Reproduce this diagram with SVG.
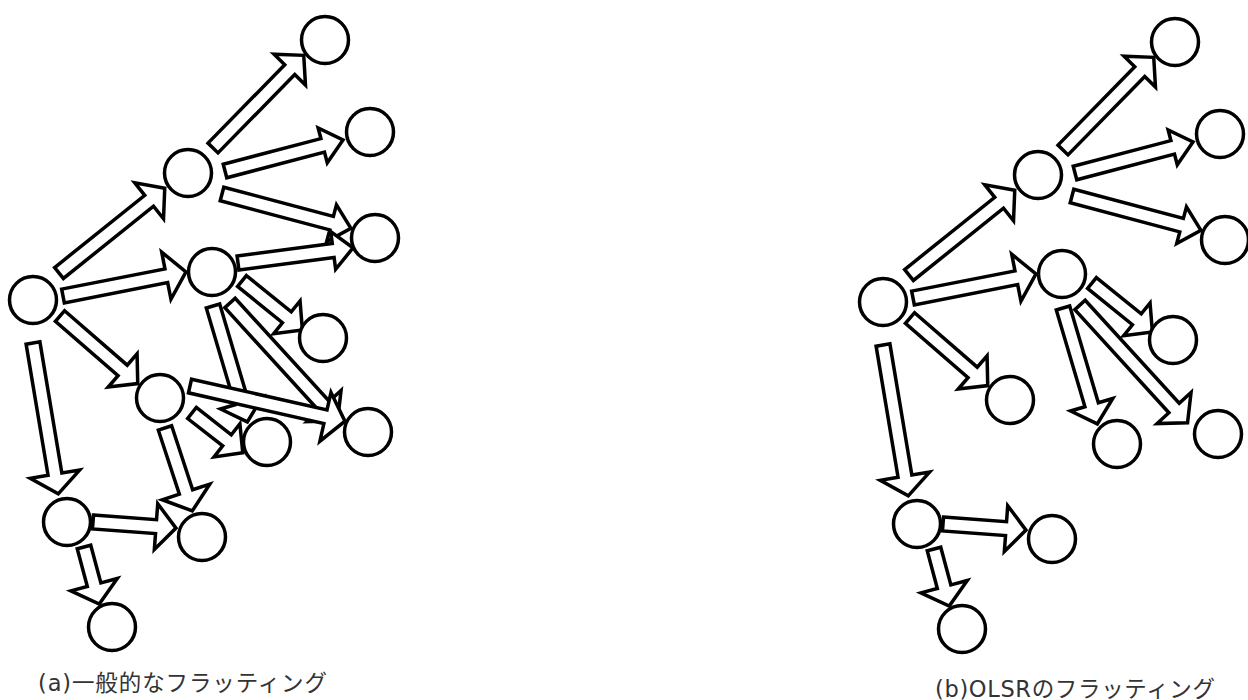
<svg xmlns="http://www.w3.org/2000/svg" width="1248" height="700" viewBox="0 0 1248 700">
<style>
.node{fill:#fff;stroke:#000;stroke-width:3.5}
.arr{fill:#fff;stroke:#000;stroke-width:3.5;stroke-linejoin:miter;stroke-miterlimit:8}
.lbl{font-family:"DejaVu Sans","Noto Sans CJK JP",sans-serif;font-size:22.5px;fill:#333}
</style>
<rect width="1248" height="700" fill="#fff"/>
<g id="diagram-a">
<g id="a-connectors">
<polygon class="arr" transform="translate(59,273) rotate(-38.7)" points="0,-7 115.5,-7 115.5,-23 135.5,0 115.5,23 115.5,7 0,7"/>
<polygon class="arr" transform="translate(213,148) rotate(-45.6)" points="0,-7 109.7,-7 109.7,-22 129.7,0 109.7,22 109.7,7 0,7"/>
<polygon class="arr" transform="translate(225,171) rotate(-14.7)" points="0,-7 101,-7 101,-18 122,0 101,18 101,7 0,7"/>
<polygon class="arr" transform="translate(222,194) rotate(14.9)" points="0,-7 113.4,-7 113.4,-19 133.4,0 113.4,19 113.4,7 0,7"/>
<polygon class="arr" transform="translate(63,296) rotate(-11.1)" points="0,-7 105.3,-7 105.3,-24 125.3,0 105.3,24 105.3,7 0,7"/>
<polygon class="arr" transform="translate(238,263) rotate(-7.5)" points="0,-7 96,-7 96,-19 116,0 96,19 96,7 0,7"/>
<polygon class="arr" transform="translate(242,281) rotate(39)" points="0,-7 57.7,-7 57.7,-21 77.7,0 57.7,21 57.7,7 0,7"/>
<polygon class="arr" transform="translate(213,306) rotate(73.5)" points="0,-7 100.9,-7 100.9,-22 120.9,0 100.9,22 100.9,7 0,7"/>
<polygon class="arr" transform="translate(230,303) rotate(47.6)" points="0,-7 139.5,-7 139.5,-23 159.5,0 139.5,23 139.5,7 0,7"/>
<polygon class="arr" transform="translate(60,316) rotate(41)" points="0,-7 83,-7 83,-22 103,0 83,22 83,7 0,7"/>
<polygon class="arr" transform="translate(33,343) rotate(80.5)" points="0,-7 133,-7 133,-25 153,0 133,25 133,7 0,7"/>
<polygon class="arr" transform="translate(192,413) rotate(38)" points="0,-7 44.4,-7 44.4,-21 64.4,0 44.4,21 44.4,7 0,7"/>
<polygon class="arr" transform="translate(190,386) rotate(12.8)" points="0,-7 138.9,-7 138.9,-25 158.9,0 138.9,25 138.9,7 0,7"/>
<polygon class="arr" transform="translate(165,428) rotate(71.8)" points="0,-7 67.3,-7 67.3,-25 87.3,0 67.3,25 67.3,7 0,7"/>
<polygon class="arr" transform="translate(93,522) rotate(4.2)" points="0,-7 63.2,-7 63.2,-23 83.2,0 63.2,23 63.2,7 0,7"/>
<polygon class="arr" transform="translate(84,547) rotate(75)" points="0,-7 39,-7 39,-24 59,0 39,24 39,7 0,7"/>
</g>
<g id="a-n0"><circle class="node" cx="33" cy="300" r="23.5"/></g>
<g id="a-n1"><circle class="node" cx="325" cy="40" r="23.5"/></g>
<g id="a-n2"><circle class="node" cx="188" cy="173" r="23.5"/></g>
<g id="a-n3"><circle class="node" cx="370" cy="132" r="23.5"/></g>
<g id="a-n4"><circle class="node" cx="375" cy="238" r="23.5"/></g>
<g id="a-n5"><circle class="node" cx="212" cy="272" r="23.5"/></g>
<g id="a-n6"><circle class="node" cx="323" cy="338" r="23.5"/></g>
<g id="a-n7"><circle class="node" cx="160" cy="398" r="23.5"/></g>
<g id="a-n8"><circle class="node" cx="267" cy="442" r="23.5"/></g>
<g id="a-n9"><circle class="node" cx="368" cy="432" r="23.5"/></g>
<g id="a-n10"><circle class="node" cx="67" cy="522" r="23.5"/></g>
<g id="a-n11"><circle class="node" cx="202" cy="537" r="23.5"/></g>
<g id="a-n12"><circle class="node" cx="112" cy="627" r="23.5"/></g>
<text class="lbl" x="38" y="691" textLength="289" lengthAdjust="spacing">(a)一般的なフラッティング</text>
</g>
<g id="diagram-b">
<g id="b-connectors" transform="translate(850,2)">
<polygon class="arr" transform="translate(59,273) rotate(-38.7)" points="0,-7 115.5,-7 115.5,-23 135.5,0 115.5,23 115.5,7 0,7"/>
<polygon class="arr" transform="translate(213,148) rotate(-45.6)" points="0,-7 109.7,-7 109.7,-22 129.7,0 109.7,22 109.7,7 0,7"/>
<polygon class="arr" transform="translate(225,171) rotate(-14.7)" points="0,-7 101,-7 101,-18 122,0 101,18 101,7 0,7"/>
<polygon class="arr" transform="translate(222,194) rotate(14.9)" points="0,-7 113.4,-7 113.4,-19 133.4,0 113.4,19 113.4,7 0,7"/>
<polygon class="arr" transform="translate(63,296) rotate(-11.1)" points="0,-7 105.3,-7 105.3,-24 125.3,0 105.3,24 105.3,7 0,7"/>
<polygon class="arr" transform="translate(242,281) rotate(39)" points="0,-7 57.7,-7 57.7,-21 77.7,0 57.7,21 57.7,7 0,7"/>
<polygon class="arr" transform="translate(213,306) rotate(73.5)" points="0,-7 100.9,-7 100.9,-22 120.9,0 100.9,22 100.9,7 0,7"/>
<polygon class="arr" transform="translate(230,303) rotate(47.6)" points="0,-7 139.5,-7 139.5,-23 159.5,0 139.5,23 139.5,7 0,7"/>
<polygon class="arr" transform="translate(60,316) rotate(41)" points="0,-7 83,-7 83,-22 103,0 83,22 83,7 0,7"/>
<polygon class="arr" transform="translate(33,343) rotate(80.5)" points="0,-7 133,-7 133,-25 153,0 133,25 133,7 0,7"/>
<polygon class="arr" transform="translate(93,522) rotate(4.2)" points="0,-7 63.2,-7 63.2,-23 83.2,0 63.2,23 63.2,7 0,7"/>
<polygon class="arr" transform="translate(84,547) rotate(75)" points="0,-7 39,-7 39,-24 59,0 39,24 39,7 0,7"/>
</g>
<g transform="translate(850,2)">
<g id="b-n0"><circle class="node" cx="33" cy="300" r="23.5"/></g>
<g id="b-n1"><circle class="node" cx="325" cy="40" r="23.5"/></g>
<g id="b-n2"><circle class="node" cx="188" cy="173" r="23.5"/></g>
<g id="b-n3"><circle class="node" cx="370" cy="132" r="23.5"/></g>
<g id="b-n4"><circle class="node" cx="375" cy="238" r="23.5"/></g>
<g id="b-n5"><circle class="node" cx="212" cy="272" r="23.5"/></g>
<g id="b-n6"><circle class="node" cx="323" cy="338" r="23.5"/></g>
<g id="b-n7"><circle class="node" cx="160" cy="398" r="23.5"/></g>
<g id="b-n8"><circle class="node" cx="267" cy="442" r="23.5"/></g>
<g id="b-n9"><circle class="node" cx="368" cy="432" r="23.5"/></g>
<g id="b-n10"><circle class="node" cx="67" cy="522" r="23.5"/></g>
<g id="b-n11"><circle class="node" cx="202" cy="537" r="23.5"/></g>
<g id="b-n12"><circle class="node" cx="112" cy="627" r="23.5"/></g>
</g>
<text class="lbl" x="935" y="697" textLength="280" lengthAdjust="spacing">(b)OLSRのフラッティング</text>
</g>
</svg>
